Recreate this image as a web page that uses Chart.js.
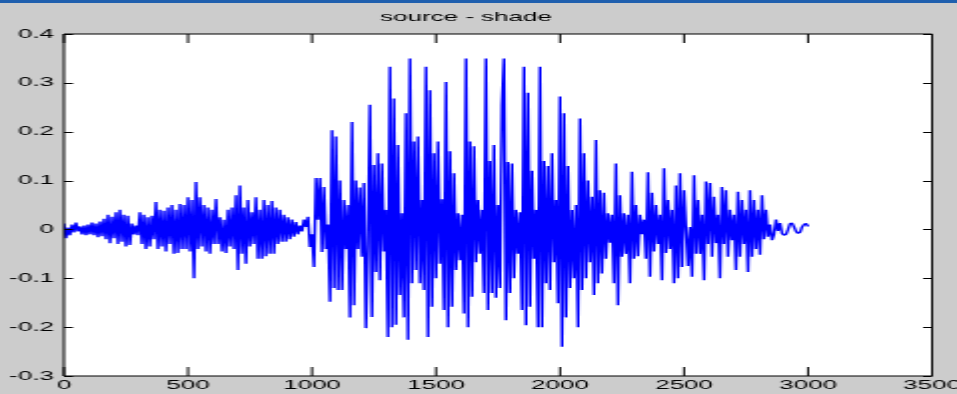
<!DOCTYPE html>
<html>
<head>
<meta charset="utf-8">
<script src="https://cdn.jsdelivr.net/npm/chart.js@4.4.1/dist/chart.umd.min.js"></script>
<style>
  html, body { margin: 0; padding: 0; background: #cccccc; overflow: hidden; }
  #wrap { position: relative; width: 957px; height: 394px; }
  #bar { position: absolute; left: 0; top: 0; width: 957px; height: 3px; background: #1f5fae; }
  /* the reference figure is a screenshot stretched ~2x sideways */
  #c { display: block; transform: scaleX(1.9979); transform-origin: 0 0; }
</style>
</head>
<body>
<div id="wrap">
  <canvas id="c" width="479" height="394"></canvas>
  <div id="bar"></div>
</div>
<script>
const chartTitle = 'source - shade';
const lastSample = 3000;

// waveform, evenly spaced from sample 0 to 3000
const source = [
  0.012, -0.018, 0.004, -0.012, 0.01, -0.006, 0.014, -0.004, 0.006, -0.01,
  0.008, -0.012, 0.01, -0.01, 0.014, -0.012, 0.012, -0.016, 0.016, -0.014,
  0.022, -0.02, 0.03, -0.028, 0.026, -0.018, 0.035, -0.03, 0.04, -0.025,
  0.03, -0.035, 0.028, -0.032, 0.012, -0.01, 0.008, -0.012, 0.035, -0.03,
  0.03, -0.04, 0.025, -0.035, 0.028, -0.02, 0.056, -0.04, 0.04, -0.035,
  0.038, -0.045, 0.045, -0.03, 0.05, -0.05, 0.04, -0.048, 0.052, -0.04,
  0.05, -0.04, 0.066, -0.045, 0.06, -0.1, 0.097, -0.04, 0.066, -0.035,
  0.05, -0.045, 0.045, -0.05, 0.04, -0.03, 0.062, -0.03, 0.025, -0.045,
  0.02, -0.048, 0.04, -0.035, 0.045, -0.04, 0.07, -0.083, 0.09, -0.05,
  0.045, -0.07, 0.06, -0.035, 0.035, -0.03, 0.066, -0.06, 0.04, -0.06,
  0.06, -0.055, 0.05, -0.05, 0.058, -0.05, 0.045, -0.03, 0.04, -0.025,
  0.03, -0.025, 0.025, -0.02, 0.02, -0.015, 0.015, -0.01, 0.008, -0.004,
  0.02, 0.005, 0.026, -0.036, -0.01, -0.077, 0.105, 0.02, 0.105, -0.046,
  0.087, -0.04, 0.01, -0.148, 0.203, -0.12, 0.19, -0.124, 0.1, -0.124,
  0.06, -0.04, 0.05, -0.18, 0.22, -0.155, 0.1, -0.04, 0.086, -0.056,
  0.095, -0.202, -0.03, 0.255, -0.179, 0.132, -0.087, 0.156, -0.104, 0.135,
  -0.045, 0.04, -0.22, 0.333, -0.2, 0.268, -0.195, 0.173, -0.134, 0.033,
  -0.18, 0.238, -0.226, 0.35, -0.11, 0.18, -0.083, 0.19, -0.11, 0.06,
  -0.124, 0.333, -0.22, 0.285, -0.158, 0.156, -0.1, 0.18, -0.07, 0.062,
  -0.165, 0.302, -0.2, 0.16, -0.158, 0.115, -0.083, 0.033, -0.063, 0.03,
  -0.172, 0.35, -0.2, 0.18, -0.138, 0.17, -0.067, 0.06, -0.05, 0.04,
  -0.13, 0.35, -0.165, 0.14, -0.13, 0.173, -0.14, 0.05, -0.12, 0.255,
  0.35, -0.186, 0.138, -0.13, 0.135, -0.1, 0.04, -0.05, 0.035, -0.165,
  0.333, -0.196, 0.28, -0.158, 0.12, -0.06, 0.04, -0.2, 0.333, -0.2,
  0.14, -0.11, 0.13, -0.124, 0.156, -0.067, 0.06, -0.151, 0.272, -0.24,
  0.238, -0.18, 0.13, -0.12, 0.04, -0.1, 0.05, -0.2, 0.227, -0.124,
  0.156, -0.1, 0.1, -0.067, 0.067, -0.134, 0.183, -0.11, 0.08, -0.09,
  0.075, -0.06, 0.033, -0.027, 0.03, -0.11, 0.135, -0.155, 0.07, -0.056,
  0.033, -0.05, 0.03, -0.11, 0.118, -0.06, 0.05, -0.055, 0.03, -0.01,
  0.02, -0.06, 0.117, -0.097, 0.075, -0.045, 0.05, -0.03, 0.03, -0.104,
  0.125, -0.048, 0.06, -0.04, 0.04, -0.11, 0.09, -0.1, 0.115, -0.077,
  0.08, 0.0, -0.075, 0.005, -0.097, 0.111, -0.05, 0.06, -0.05, 0.03,
  -0.104, 0.098, -0.03, 0.095, -0.056, 0.067, -0.028, 0.03, -0.1, 0.087,
  -0.03, 0.08, -0.056, 0.04, -0.022, 0.03, -0.083, 0.077, -0.056, 0.06,
  -0.03, 0.04, -0.087, 0.08, -0.056, 0.06, -0.04, 0.04, -0.052, 0.07,
  -0.02, 0.04, -0.015, 0.01, -0.022, -0.01, 0.02, -0.003, 0.013, -0.008,
  -0.012, -0.01, 0.0, 0.012, 0.013, 0.005, -0.004, -0.008, -0.006, 0.005,
  0.01, 0.012, 0.006
];

const xTicks = [0, 500, 1000, 1500, 2000, 2500, 3000, 3500];
const xTickLabels = ['0', '500', '1000', '1500', '2000', '2500', '3000', '3500'];
const yTicks = [-0.3, -0.2, -0.1, 0, 0.1, 0.2, 0.3, 0.4];
const yTickLabels = ['-0.3', '-0.2', '-0.1', '0', '0.1', '0.2', '0.3', '0.4'];

const step = lastSample / (source.length - 1);
const points = source.map((v, i) => ({ x: i * step, y: v }));

const font = { family: '"Liberation Sans", Arial, sans-serif', size: 13, weight: 'normal' };

// white axes box, frame and inward tick marks like a matlab figure
const matlabBox = {
  id: 'matlabBox',
  beforeDatasetsDraw(chart) {
    const { ctx, chartArea: a } = chart;
    ctx.save();
    ctx.fillStyle = '#ffffff';
    ctx.fillRect(a.left, a.top, a.right - a.left, a.bottom - a.top);
    ctx.restore();
  },
  afterDraw(chart) {
    const { ctx, chartArea: a, scales } = chart;
    ctx.save();
    ctx.strokeStyle = '#000000';
    ctx.lineWidth = 1;
    ctx.beginPath();
    ctx.rect(a.left, a.top, a.right - a.left, a.bottom - a.top);
    scales.x.ticks.forEach(t => {
      const px = scales.x.getPixelForValue(t.value);
      ctx.moveTo(px, a.bottom); ctx.lineTo(px, a.bottom - 9);
      ctx.moveTo(px, a.top); ctx.lineTo(px, a.top + 9);
    });
    scales.y.ticks.forEach(t => {
      const py = Math.round(scales.y.getPixelForValue(t.value)) + 0.5;
      ctx.moveTo(a.left, py); ctx.lineTo(a.left + 4.5, py);
      ctx.moveTo(a.right, py); ctx.lineTo(a.right - 4.5, py);
    });
    ctx.stroke();
    ctx.restore();
  }
};

new Chart(document.getElementById('c'), {
  type: 'line',
  data: {
    datasets: [{
      label: chartTitle,
      data: points,
      borderColor: '#0000ff',
      borderWidth: 1.4,
      borderJoinStyle: 'bevel',
      pointRadius: 0,
      tension: 0,
      fill: false
    }]
  },
  options: {
    responsive: false,
    animation: false,
    devicePixelRatio: 1,
    events: [],
    layout: { padding: { left: 0, right: 12.5, top: 0, bottom: 0 } },
    plugins: {
      legend: { display: false },
      tooltip: { enabled: false },
      title: {
        display: true,
        text: chartTitle,
        color: '#000000',
        font: font,
        padding: { top: 10, bottom: 8.4 }
      }
    },
    scales: {
      x: {
        type: 'linear',
        min: 0,
        max: 3500,
        grid: { display: false, drawTicks: false },
        border: { display: false },
        afterBuildTicks: s => { s.ticks = xTicks.map(v => ({ value: v })); },
        afterFit: s => { s.height = 18; s.paddingLeft = 0; s.paddingRight = 0; },
        ticks: {
          color: '#000000',
          font: font,
          padding: 2,
          maxRotation: 0,
          autoSkip: false,
          callback: v => xTickLabels[xTicks.indexOf(v)]
        }
      },
      y: {
        type: 'linear',
        min: -0.3,
        max: 0.4,
        grid: { display: false, drawTicks: false },
        border: { display: false },
        afterBuildTicks: s => { s.ticks = yTicks.map(v => ({ value: v })); },
        afterFit: s => { s.width = 32; s.paddingTop = 0; s.paddingBottom = 0; },
        ticks: {
          color: '#000000',
          font: font,
          padding: 5,
          autoSkip: false,
          callback: (v, i) => yTickLabels[i]
        }
      }
    }
  },
  plugins: [matlabBox]
});
</script>
</body>
</html>
